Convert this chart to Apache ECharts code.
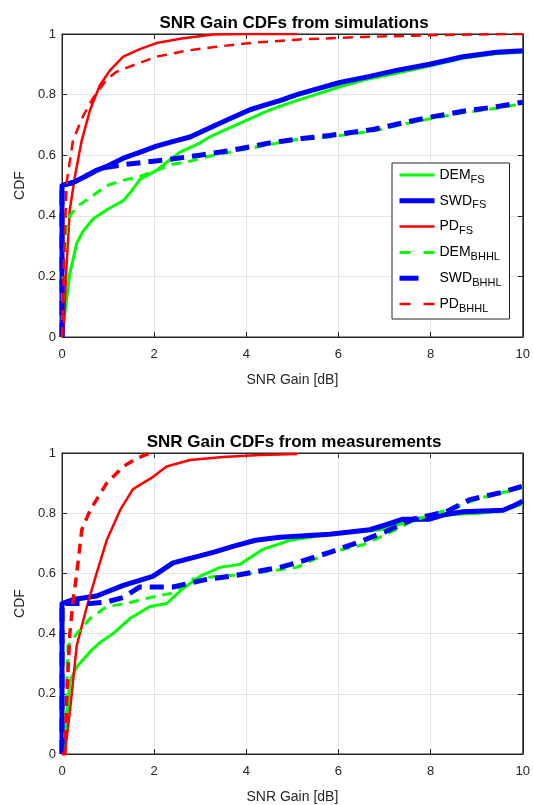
<!DOCTYPE html>
<html><head><meta charset="utf-8">
<script src="https://cdn.jsdelivr.net/npm/echarts@6/dist/echarts.min.js"></script>
<style>html,body{margin:0;padding:0;background:#fff}#c{width:533px;height:805px}</style>
</head><body><div id="c"></div>
<script>
// ---- Data (x = SNR gain [dB], y = CDF) ----
const xTicks = [0, 2, 4, 6, 8, 10];
const yTicks = [0, 0.2, 0.4, 0.6, 0.8, 1];
const seriesNames = ['DEM_FS', 'SWD_FS', 'PD_FS', 'DEM_BHHL', 'SWD_BHHL', 'PD_BHHL'];
const titles = ['SNR Gain CDFs from simulations', 'SNR Gain CDFs from measurements'];

// Simulations
const simDemFs = [[0,0],[0.065,0.08],[0.17,0.21],[0.32,0.31],[0.46,0.35],[0.68,0.39],[0.97,0.42],[1.15,0.435],[1.33,0.45],[1.5,0.48],[1.69,0.52],[2.05,0.55],[2.3,0.58],[2.56,0.61],[2.99,0.64],[3.2,0.66],[3.49,0.68],[3.86,0.705],[4.36,0.74],[4.7,0.76],[5.09,0.78],[5.5,0.8],[6.03,0.826],[6.6,0.85],[7.26,0.87],[8.0,0.895],[8.7,0.92],[9.4,0.935],[10,0.94]];
const simSwdFs = [[0,0],[0,0.5],[0.1,0.505],[0.24,0.51],[0.5,0.53],[0.75,0.55],[1.0,0.565],[1.33,0.59],[1.7,0.61],[2.05,0.63],[2.4,0.645],[2.78,0.66],[3.2,0.69],[3.64,0.72],[3.86,0.735],[4.08,0.75],[4.4,0.765],[4.73,0.78],[5.1,0.8],[5.44,0.815],[6.03,0.84],[6.68,0.86],[7.26,0.88],[7.98,0.9],[8.7,0.925],[9.43,0.94],[10,0.945]];
const simPdFs = [[0,0],[0.03,0.01],[0.1,0.24],[0.17,0.42],[0.28,0.53],[0.43,0.65],[0.61,0.75],[0.82,0.83],[1.04,0.88],[1.33,0.925],[1.69,0.95],[2.05,0.97],[2.6,0.985],[3.28,0.998],[4.0,1.0],[5.1,1.0]];
const simDemBhhl = [[0,0],[0.03,0.24],[0.1,0.36],[0.17,0.40],[0.32,0.43],[0.61,0.46],[0.97,0.50],[1.4,0.52],[1.69,0.53],[2.05,0.55],[2.41,0.57],[2.78,0.58],[3.14,0.595],[3.64,0.61],[4.5,0.635],[5.2,0.655],[5.81,0.66],[6.75,0.68],[7.5,0.705],[7.98,0.72],[8.7,0.74],[9.43,0.755],[10,0.77]];
const simSwdBhhl = [[0,0],[0,0.5],[0.24,0.51],[0.5,0.53],[0.75,0.55],[0.97,0.56],[1.4,0.57],[2.27,0.585],[2.99,0.6],[3.64,0.615],[4.5,0.64],[5.2,0.655],[5.81,0.665],[6.75,0.685],[7.5,0.71],[7.98,0.725],[8.7,0.745],[9.43,0.76],[10,0.775]];
const simPdBhhl = [[0,0],[0.02,0.1],[0.04,0.24],[0.1,0.51],[0.13,0.54],[0.24,0.65],[0.46,0.73],[0.68,0.79],[0.97,0.85],[1.19,0.876],[1.6,0.9],[2.05,0.925],[2.7,0.945],[3.35,0.958],[4.2,0.972],[5.16,0.982],[6.5,0.99],[8,0.996],[9.8,1.0],[10,1.0]];

// Measurements
const meaDemFs = [[0,0],[0.065,0.05],[0.17,0.24],[0.32,0.29],[0.61,0.34],[0.82,0.37],[1.11,0.40],[1.47,0.45],[1.91,0.49],[2.27,0.50],[2.63,0.55],[2.99,0.59],[3.43,0.62],[3.86,0.63],[4.36,0.68],[4.95,0.71],[5.81,0.73],[6.9,0.745],[7.48,0.77],[8.34,0.795],[9.07,0.80],[9.6,0.81],[10,0.83]];
const meaSwdFs = [[0,0],[0,0.5],[0.24,0.513],[0.75,0.525],[1.33,0.56],[1.97,0.59],[2.41,0.635],[2.78,0.65],[3.28,0.67],[3.71,0.69],[4.2,0.71],[4.73,0.72],[5.81,0.73],[6.68,0.745],[7.0,0.76],[7.4,0.78],[7.98,0.78],[8.3,0.795],[8.7,0.805],[9.57,0.81],[9.8,0.825],[10,0.84]];
const meaPdFs = [[0,0],[0.06,0],[0.17,0.14],[0.32,0.36],[0.54,0.49],[0.75,0.60],[0.97,0.71],[1.26,0.81],[1.54,0.88],[1.97,0.92],[2.27,0.955],[2.78,0.977],[3.49,0.987],[4.3,0.993],[5.1,0.997]];
const meaDemBhhl = [[0,0],[0.07,0.07],[0.13,0.36],[0.32,0.40],[0.61,0.45],[0.97,0.49],[1.4,0.50],[1.91,0.52],[2.41,0.535],[2.78,0.58],[3.35,0.59],[3.86,0.595],[4.36,0.605],[5.09,0.62],[5.81,0.67],[6.53,0.695],[7.04,0.73],[7.62,0.775],[8.34,0.81],[9.07,0.85],[10,0.885]];
const meaSwdBhhl = [[0,0],[0,0.5],[0.61,0.50],[0.97,0.505],[1.33,0.52],[1.69,0.555],[2.41,0.555],[3.14,0.58],[3.64,0.59],[4.73,0.62],[5.09,0.635],[5.81,0.67],[6.46,0.705],[7.04,0.74],[7.62,0.78],[8.34,0.805],[8.85,0.845],[9.57,0.87],[10,0.89]];
const meaPdBhhl = [[0,0],[0.065,0],[0.1,0.18],[0.17,0.40],[0.24,0.51],[0.32,0.6],[0.43,0.745],[0.61,0.81],[0.97,0.90],[1.33,0.955],[1.6,0.98],[1.91,1.0]];

// ---- Styles ----
const FONT = '"Liberation Sans", Arial, Helvetica, sans-serif';
const TXT = '#262626';
const styles = [
  {color:'#00ff00', width:3, type:'solid'},
  {color:'#0000ff', width:5, type:'solid'},
  {color:'#ff0000', width:2.5, type:'solid'},
  {color:'#00ff00', width:3, type:[10,7]},
  {color:'#0000ff', width:5, type:[14,8]},
  {color:'#ff0000', width:2.5, type:[10,7]}
];
const legendDash = ['solid', 'solid', 'solid', [11,13], [19,30], [11,13]];
const simData = [simDemFs, simSwdFs, simPdFs, simDemBhhl, simSwdBhhl, simPdBhhl];
const meaData = [meaDemFs, meaSwdFs, meaPdFs, meaDemBhhl, meaSwdBhhl, meaPdBhhl];
const redDashBottomWidth = 3.5;

const grids = [
  {left:62, right:10, top:34, height:303, show:true, borderColor:TXT, borderWidth:1, backgroundColor:'#fff'},
  {left:62, right:10, top:453, height:302, show:true, borderColor:TXT, borderWidth:1, backgroundColor:'#fff'}
];

function xAx(gi, pos) {
  const main = pos === 'bottom';
  return {
    type:'value', gridIndex:gi, position:pos, min:0, max:10, interval:2,
    name: main ? 'SNR Gain [dB]' : '', nameLocation:'middle', nameGap:36,
    nameTextStyle:{color:TXT, fontSize:14, fontFamily:FONT},
    axisLine:{show:true, onZero:false, lineStyle:{color:TXT, width:1}},
    axisTick:{show:true, inside:true, length:5, lineStyle:{color:TXT}},
    axisLabel:{show:main, color:TXT, fontSize:13, fontFamily:FONT, margin:11},
    splitLine:{show:main, lineStyle:{color:'#e5e5e5', width:1}}
  };
}
function yAx(gi, pos) {
  const main = pos === 'left';
  return {
    type:'value', gridIndex:gi, position:pos, min:0, max:1, interval:0.2,
    name: main ? 'CDF' : '', nameLocation:'middle', nameGap:33,
    nameTextStyle:{color:TXT, fontSize:14, fontFamily:FONT},
    axisLine:{show:true, onZero:false, lineStyle:{color:TXT, width:1}},
    axisTick:{show:true, inside:true, length:5, lineStyle:{color:TXT}},
    axisLabel:{show:main, color:TXT, fontSize:13, fontFamily:FONT, margin:6,
      formatter: v => String(Math.round(v*10)/10)},
    splitLine:{show:main, lineStyle:{color:'#e5e5e5', width:1}}
  };
}

const series = [];
[simData, meaData].forEach((set, gi) => {
  set.forEach((d, i) => {
    const st = styles[i];
    const w = (gi === 1 && i === 5) ? redDashBottomWidth : st.width;
    series.push({
      name: seriesNames[i], type:'line', xAxisIndex: gi*2, yAxisIndex: gi*2,
      data: d, showSymbol:false, symbol:'none', smooth:false, z: 2 + i,
      lineStyle:{color:st.color, width:w, type:st.type, cap:'butt', join:'round'},
      itemStyle:{color:st.color},
      emphasis:{disabled:true}, animation:false
    });
  });
});

function legendFmt(name) {
  const [b, s] = name.split('_');
  return '{b|' + b + '}{s|' + s + '}';
}

const option = {
  animation:false,
  backgroundColor:'#fff',
  title: titles.map((t, i) => ({
    text:t, left:289, textAlign:'center', top: i === 0 ? 10 : 429,
    textStyle:{fontSize:17, fontWeight:'bold', color:'#000', fontFamily:FONT}
  })),
  grid: grids,
  xAxis: [xAx(0,'bottom'), xAx(0,'top'), xAx(1,'bottom'), xAx(1,'top')],
  yAxis: [yAx(0,'left'), yAx(0,'right'), yAx(1,'left'), yAx(1,'right')],
  legend: {
    data: seriesNames.map((n, i) => ({name:n,
      lineStyle:{width:styles[i].width, type:legendDash[i], color:styles[i].color, cap:'butt'}})),
    orient:'vertical', left:392, top:163, width:116,
    itemWidth:35, itemHeight:14, itemGap:8.8,
    padding:[5, 8, 5, 5],
    backgroundColor:'#fff', borderColor:TXT, borderWidth:1,
    itemStyle:{color:'rgba(0,0,0,0)', borderWidth:0, opacity:0},
    formatter: legendFmt,
    textStyle:{color:'#000', fontFamily:FONT, fontSize:14,
      rich:{b:{fontSize:14, fontFamily:FONT, color:'#000'},
            s:{fontSize:11, fontFamily:FONT, color:'#000', padding:[9,0,0,0]}}},
    selectedMode:false, inactiveColor:'#000'
  },
  series: series
};

const chart = echarts.init(document.getElementById('c'), null, {renderer:'canvas'});
chart.setOption(option);
</script>
</body></html>
